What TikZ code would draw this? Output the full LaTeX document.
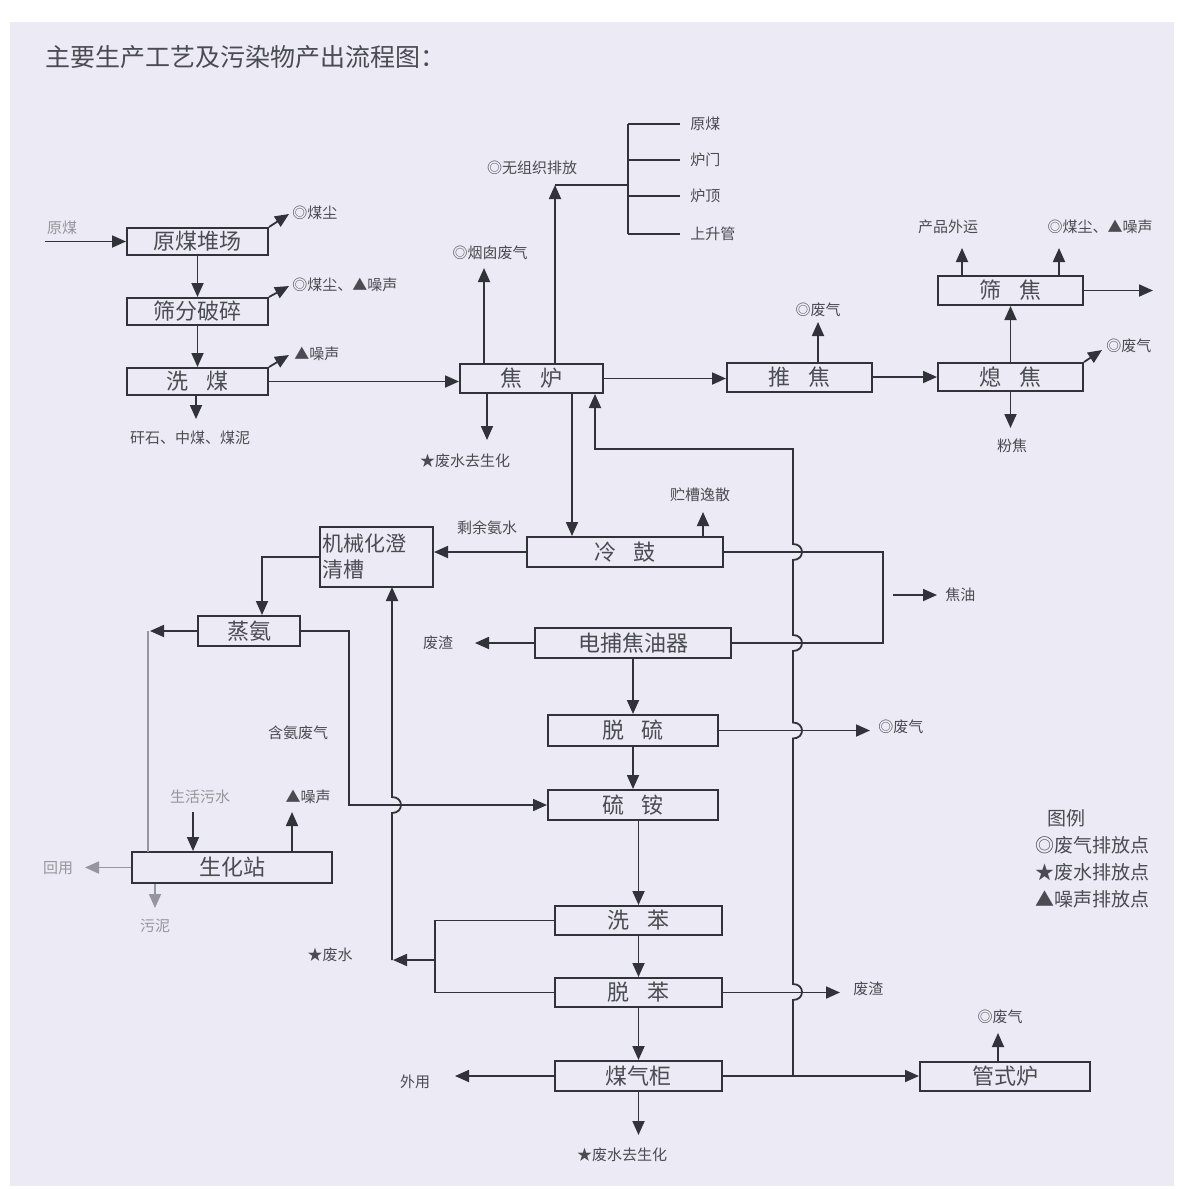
\documentclass[tikz,border=0pt]{standalone}
\usepackage{fontspec}
\setmainfont{Noto Sans CJK SC}
\usetikzlibrary{arrows.meta}
\definecolor{bg}{RGB}{236,234,244}
\definecolor{ln}{RGB}{50,50,58}
\definecolor{tx}{RGB}{75,75,82}
\definecolor{fd}{RGB}{150,150,158}
\begin{document}
\begin{tikzpicture}[x=0.5pt,y=-0.5pt,
  box/.style={draw=ln, line width=1pt, fill=bg, inner sep=0pt, text=tx, font=\fontsize{11}{13}\selectfont},
  lbl/.style={text=tx, inner sep=0pt, font=\fontsize{7.5}{9}\selectfont},
  fdl/.style={text=fd, inner sep=0pt, font=\fontsize{7.5}{9}\selectfont},
  leg/.style={text=tx, inner sep=0pt, anchor=west, font=\fontsize{9.5}{11}\selectfont},
  arr/.style={draw=ln, line width=0.9pt, -{Triangle[length=7pt,width=6pt]}},
  ln/.style={draw=ln, line width=0.9pt},
  farr/.style={draw=fd, line width=0.9pt, -{Triangle[length=7pt,width=6pt]}}
]
\useasboundingbox (0,0) rectangle (1182,1189);
\fill[white] (0,0) rectangle (1182,1189);
\fill[bg] (10,22) rectangle (1174,1186);

% title
\node[text=tx, anchor=west, inner sep=0pt, font=\fontsize{12.5}{14}\selectfont] (title) at (45,57) {主要生产工艺及污染物产出流程图：};

% boxes
\def\sp{\hspace{0.8em}}
\node[box, minimum width=70.5pt, minimum height=13.5pt] (yuanmei) at (197.5,241.5) {原煤堆场};
\node[box, minimum width=70.5pt, minimum height=13.5pt] (shaifen) at (197.5,311.5) {筛分破碎};
\node[box, minimum width=70.5pt, minimum height=13.5pt] (ximei) at (197.5,381.5) {洗\sp 煤};
\node[box, minimum width=71.5pt, minimum height=14.5pt] (jiaolu) at (531.5,378.5) {焦\sp 炉};
\node[box, minimum width=72.5pt, minimum height=14.5pt] (tuijiao) at (799.5,377) {推\sp 焦};
\node[box, minimum width=72.5pt, minimum height=14pt] (xijiao) at (1010.5,377) {熄\sp 焦};
\node[box, minimum width=72.5pt, minimum height=14.5pt] (shaijiao) at (1010.5,290.5) {筛\sp 焦};
\node[box, minimum width=98pt, minimum height=15pt] (lenggu) at (625,552) {冷\sp 鼓};
\node[box, minimum width=56.5pt, minimum height=30pt, align=left, text width=54pt, inner xsep=1pt, font=\fontsize{10.5}{13}\selectfont] (jixie) at (376.5,557) {机械化澄\\清槽};
\node[box, minimum width=51pt, minimum height=15pt] (zhengan) at (249,631) {蒸氨};
\node[box, minimum width=98pt, minimum height=15pt] (dianbu) at (633,643) {电捕焦油器};
\node[box, minimum width=85pt, minimum height=15.5pt] (tuoliu) at (633,730.5) {脱\sp 硫};
\node[box, minimum width=85pt, minimum height=15pt] (liuan) at (633,805) {硫\sp 铵};
\node[box, minimum width=100pt, minimum height=15.5pt] (shenghua) at (232,867.5) {生化站};
\node[box, minimum width=83.5pt, minimum height=14.5pt] (xiben) at (638.5,920.5) {洗\sp 苯};
\node[box, minimum width=83.5pt, minimum height=14.5pt] (tuoben) at (638.5,992.5) {脱\sp 苯};
\node[box, minimum width=83.5pt, minimum height=15pt] (meiqigui) at (638.5,1076) {煤气柜};
\node[box, minimum width=85pt, minimum height=14.5pt] (guanshi) at (1005,1076) {管式炉};

% coal preparation
\coordinate (inS) at (45,241.5);
\draw[arr] (inS) -- (yuanmei.west);
\node[fdl] (lin) at (62,228) {原煤};
\draw[arr] (yuanmei.south) -- (shaifen.north);
\draw[arr] (shaifen.south) -- (ximei.north);
\coordinate (d1) at (289,214);
\draw[arr] (yuanmei.north east) -- (d1);
\node[lbl, anchor=west] (l1) at (292,213) {◎煤尘};
\coordinate (d2) at (289,286);
\draw[arr] (shaifen.north east) -- (d2);
\node[lbl, anchor=west] (l2) at (292,285) {◎煤尘、▲噪声};
\coordinate (d3) at (289,355);
\draw[arr] (ximei.north east) -- (d3);
\node[lbl, anchor=west] (l3) at (294,354) {▲噪声};
\coordinate (d4) at (196,419);
\draw[arr] (ximei.south -| d4) -- (d4);
\node[lbl] (l4) at (190,438) {矸石、中煤、煤泥};
\draw[arr] (ximei.east) -- (ximei.east -| jiaolu.west);

% coke oven
\coordinate (c1) at (484,268);
\draw[arr] (jiaolu.north -| c1) -- (c1);
\node[lbl] (l5) at (490,253) {◎烟囱废气};
\coordinate (c2) at (555,185);
\draw[arr] (jiaolu.north -| c2) -- (c2);
\node[lbl] (l6) at (532,168) {◎无组织排放};
\coordinate (bk) at (628,185);
\draw[ln] (c2) -- (bk);
\draw[ln] (628,124) -- (628,234);
\foreach \yy/\tt/\nm in {124/原煤/b1,160/炉门/b2,196/炉顶/b3,234/上升管/b4}{
  \draw[ln] (628,\yy) -- (680,\yy);
  \node[lbl, anchor=west] (\nm) at (690,\yy) {\tt};
}
\coordinate (c3) at (487,440);
\draw[arr] (jiaolu.south -| c3) -- (c3);
\node[lbl] (l7) at (465,461) {★废水去生化};
\coordinate (c4) at (572,500);
\draw[arr] (jiaolu.south -| c4) -- (lenggu.north -| c4);
\draw[arr] (jiaolu.east) -- (jiaolu.east -| tuijiao.west);

% coke handling
\coordinate (t1) at (818,322);
\draw[arr] (tuijiao.north -| t1) -- (t1);
\node[lbl] (l8) at (818,310) {◎废气};
\draw[arr] (tuijiao.east) -- (xijiao.west);
\draw[arr] (xijiao.north) -- (shaijiao.south);
\coordinate (x1) at (1102,350);
\draw[arr] (xijiao.north east) -- (x1);
\node[lbl, anchor=west] (l9) at (1106,346) {◎废气};
\coordinate (x2) at (1010.5,428);
\draw[arr] (xijiao.south) -- (x2);
\node[lbl] (l10) at (1012,446) {粉焦};
\coordinate (s1) at (962,248);
\draw[arr] (shaijiao.north -| s1) -- (s1);
\node[lbl] (l11) at (948,227) {产品外运};
\coordinate (s2) at (1059,248);
\draw[arr] (shaijiao.north -| s2) -- (s2);
\node[lbl] (l12) at (1100,227) {◎煤尘、▲噪声};
\coordinate (s3) at (1153,290.5);
\draw[arr] (shaijiao.east) -- (s3);

% cooling / tar
\draw[arr] (lenggu.west) -- (lenggu.west -| jixie.east);
\node[lbl] (l13) at (487,528) {剩余氨水};
\coordinate (g1) at (703,512);
\draw[arr] (lenggu.north -| g1) -- (g1);
\node[lbl] (l14) at (700,495) {贮槽逸散};
\coordinate (tr) at (883,552);
\draw[ln] (lenggu.east) -- (tr) -- (883,643) -- (dianbu.east);
\coordinate (tarS) at (893,595);
\coordinate (tarE) at (937,595);
\draw[arr] (tarS) -- (tarE);
\node[lbl, anchor=west] (l15) at (945,595) {焦油};
\coordinate (w1) at (475,643);
\draw[arr] (dianbu.west) -- (w1);
\node[lbl] (l16) at (438,643) {废渣};
\draw[arr] (dianbu.south) -- (tuoliu.north);
\coordinate (w2) at (870,730.5);
\draw[arr] (tuoliu.east) -- (w2);
\node[lbl, anchor=west] (l17) at (878,727) {◎废气};
\draw[arr] (tuoliu.south) -- (liuan.north);
\draw[arr] (liuan.south -| xiben.north) -- (xiben.north);
\draw[arr] (xiben.south) -- (tuoben.north);
\draw[arr] (tuoben.south) -- (meiqigui.north);
\coordinate (w3) at (840,992.5);
\draw[arr] (tuoben.east) -- (w3);
\node[lbl, anchor=west] (l18) at (853,989) {废渣};
\coordinate (w4) at (455,1076);
\draw[arr] (meiqigui.west) -- (w4);
\node[lbl] (l19) at (415,1082) {外用};
\coordinate (w5) at (638.5,1135);
\draw[arr] (meiqigui.south) -- (w5);
\node[lbl] (l20) at (622,1155) {★废水去生化};
\draw[arr] (meiqigui.east) -- (guanshi.west);
\coordinate (w6) at (998,1033);
\draw[arr] (guanshi.north -| w6) -- (w6);
\node[lbl] (l21) at (1000,1017) {◎废气};

% gas return line with jumps
\coordinate (gj) at (793,1076);
\coordinate (ret) at (595,449);
\draw[arr] (gj) -- (793,1000) .. controls (805,1000) and (805,984) .. (793,984)
  -- (793,738.5) .. controls (805,738.5) and (805,722.5) .. (793,722.5)
  -- (793,651) .. controls (805,651) and (805,635) .. (793,635)
  -- (793,560) .. controls (805,560) and (805,544) .. (793,544)
  -- (793,449) -- (ret) -- (ret |- jiaolu.south);

% ammonia
\coordinate (j1) at (262,557);
\draw[arr] (jixie.west) -- (j1) -- (j1 |- zhengan.north);
\coordinate (z1) at (150,631);
\draw[arr] (zhengan.west) -- (z1);
\draw[draw=fd, line width=0.9pt] (148,631) -- (148,852);
\coordinate (z2) at (349,631);
\draw[arr] (zhengan.east) -- (z2) -- (349,805) -- (liuan.west);
\node[lbl] (l22) at (298,733) {含氨废气};
\coordinate (b0) at (435,960);
\draw[ln] (xiben.west) -- (435,920.5) -- (435,992.5) -- (tuoben.west);
\coordinate (b1) at (393,960);
\draw[arr] (b0) -- (b1);
\node[lbl] (l23) at (330,955) {★废水};
\draw[arr] (392,960) -- (392,813) .. controls (404,813) and (404,797) .. (392,797) -- (392,587);

% biochemical station
\coordinate (h1) at (85,867.5);
\draw[farr] (shenghua.west) -- (h1);
\node[fdl] (l24) at (58,868) {回用};
\coordinate (h2) at (155,908);
\draw[farr] (shenghua.south -| h2) -- (h2);
\node[fdl] (l25) at (155,926) {污泥};
\node[fdl] (l26) at (200,797) {生活污水};
\coordinate (h3) at (193,812);
\draw[arr] (h3) -- (shenghua.north -| h3);
\coordinate (h4) at (292,812);
\draw[arr] (shenghua.north -| h4) -- (h4);
\node[lbl] (l27) at (308,797) {▲噪声};

% legend
\node[text=tx, inner sep=0pt, font=\fontsize{9.5}{11}\selectfont] (lg0) at (1066,818) {图例};
\node[leg] (lg1) at (1035,845) {◎废气排放点};
\node[leg] (lg2) at (1035,872) {★废水排放点};
\node[leg] (lg3) at (1035,899) {▲噪声排放点};
\end{tikzpicture}
\end{document}
